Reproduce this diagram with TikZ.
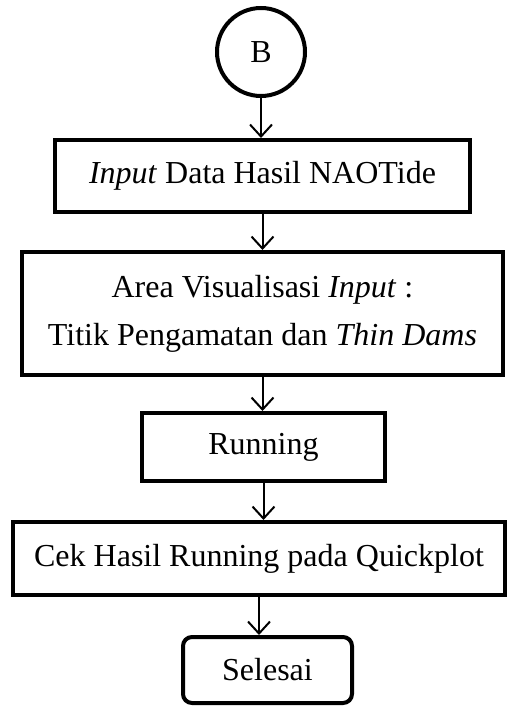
\documentclass[tikz,border=0pt]{standalone}
\usepackage{fontspec}
\setmainfont{Liberation Serif}
\usetikzlibrary{arrows.meta}

\tikzset{
    flowbox/.style={draw, line width=4pt, align=center, inner sep=0pt,
        font=\fontsize{32}{44}\selectfont},
    flowarrow/.style={line width=2pt, -{Straight Barb[length=12pt,width=22pt,line width=2pt]}}
}

\begin{document}
\begin{tikzpicture}[x=1pt, y=-1pt]
    \useasboundingbox (0,0) rectangle (506,706);

    \node[flowbox, circle, minimum size=88pt] (conB) at (261,52) {B};
    \node[flowbox, minimum width=415pt, minimum height=72pt] (inputdata) at (262.5,176) {\textit{Input} Data Hasil NAOTide};
    \node[flowbox, minimum width=481pt, minimum height=123pt] (area) at (262.5,313.5)
        {Area Visualisasi \textit{Input} :\\[4pt]Titik Pengamatan dan \textit{Thin Dams}};
    \node[flowbox, minimum width=243pt, minimum height=68pt] (running) at (263.5,447) {Running};
    \node[flowbox, minimum width=492pt, minimum height=73pt] (cek) at (259,558.5) {Cek Hasil Running pada Quickplot};
    \node[flowbox, rounded corners=9pt, minimum width=169pt, minimum height=66pt] (selesai) at (267.5,670) {Selesai};

    \draw[flowarrow] (conB.south) -- (conB.south |- inputdata.north);
    \draw[flowarrow] (inputdata.south) -- (inputdata.south |- area.north);
    \draw[flowarrow] (area.south) -- (area.south |- running.north);
    \draw[flowarrow] (running.south) -- (running.south |- cek.north);
    \draw[flowarrow] (cek.south) -- (cek.south |- selesai.north);
\end{tikzpicture}
\end{document}
